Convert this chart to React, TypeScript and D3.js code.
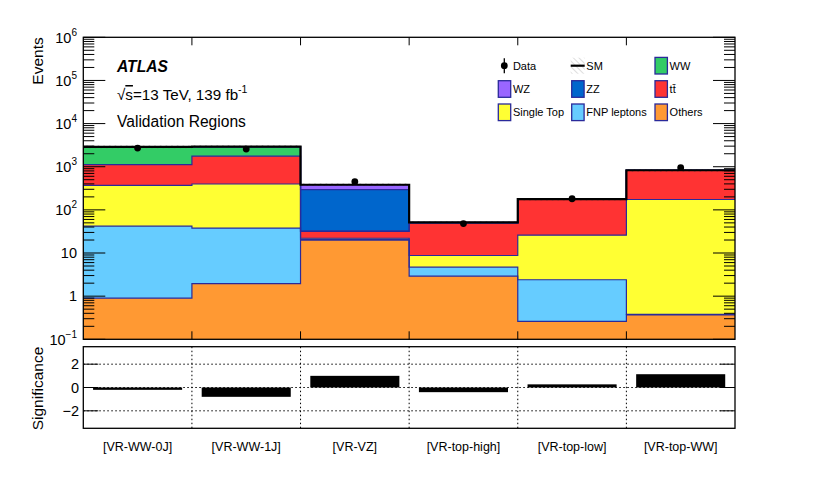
import * as d3 from "d3";

const regions = ["[VR-WW-0J]", "[VR-WW-1J]", "[VR-VZ]", "[VR-top-high]", "[VR-top-low]", "[VR-top-WW]"];

// expected yields per region, stacked bottom -> top
const others = [0.9, 1.95, 20, 2.9, 0.26, 0.37];
const fnpLeptons = [41, 36, 0.8, 1.8, 2.14, 0.01];
const singleTop = [328, 360, 1.2, 4.05, 23.5, 173.6];
const ttbar = [750, 1362, 9.6, 40.2, 148, 646];
const ww = [1730, 1140, 0.5, 1.5, 2, 5];
const zz = [8, 6, 261, 0.3, 0.3, 1];
const wz = [25, 20, 89, 0.5, 0.5, 2];

const dataCounts = [2700, 2560, 450, 48, 181, 950];
const significance = [-0.2, -0.8, 1.0, -0.4, 0.27, 1.14];
const sigTicks = [-2, 0, 2];

const layers = [
  { key: "others", name: "Others", values: others, color: "#ff9933" },
  { key: "fnp", name: "FNP leptons", values: fnpLeptons, color: "#66ccff" },
  { key: "st", name: "Single Top", values: singleTop, color: "#ffff33" },
  { key: "tt", name: "t\u0074\u0304", values: ttbar, color: "#ff3333" },
  { key: "ww", name: "WW", values: ww, color: "#33cc66" },
  { key: "zz", name: "ZZ", values: zz, color: "#0066cc" },
  { key: "wz", name: "WZ", values: wz, color: "#9966ff" },
];

const legendRows = [
  ["Data", "SM", "WW"],
  ["WZ", "ZZ", "t\u0074\u0304"],
  ["Single Top", "FNP leptons", "Others"],
];

const W = 830;
const H = 478;
const left = 83.3;
const right = 735;
const top = 37.3;
const mainBottom = 339.3;
const ratioTop = 346.7;
const ratioBottom = 428.3;
const outline = "#2a2a9a";
const font = "'Liberation Sans', Arial, Helvetica, sans-serif";

export default function App() {
  const x = d3.scaleLinear().domain([0, regions.length]).range([left, right]);
  const y = d3.scaleLog().domain([0.1, 1e6]).range([mainBottom, top]);
  const ys = d3.scaleLinear().domain([-3.5, 3.5]).range([ratioBottom, ratioTop]);

  const table = regions.map((r, i) => {
    const row: Record<string, number> = {};
    layers.forEach((l) => (row[l.key] = l.values[i]));
    return row;
  });
  const stacked = d3.stack<Record<string, number>>().keys(layers.map((l) => l.key))(table);

  const edges = d3.range(regions.length + 1);
  const stepPts = (vals: number[]) => edges.map((e) => [x(e), y(vals[Math.min(e, vals.length - 1)])] as [number, number]);

  const area = d3
    .area<[number, number]>()
    .x((d) => d[0])
    .y0(mainBottom)
    .y1((d) => d[1])
    .curve(d3.curveStepAfter);
  const line = d3
    .line<[number, number]>()
    .x((d) => d[0])
    .y((d) => d[1])
    .curve(d3.curveStepAfter);

  const totals = stacked[stacked.length - 1].map((d) => d[1]);
  const bandPts = edges.map((e) => totals[Math.min(e, totals.length - 1)]);
  const band = d3
    .area<number>()
    .x((_, i) => x(i))
    .y0((d) => y(d * 0.93))
    .y1((d) => y(d * 1.07))
    .curve(d3.curveStepAfter);

  const logTicks = y.ticks();
  const isMajor = (t: number) => Math.abs(Math.log10(t) - Math.round(Math.log10(t))) < 1e-9;

  const decadeLabel = (t: number) => {
    const e = Math.round(Math.log10(t));
    if (e === 0) return <tspan>1</tspan>;
    if (e === 1) return <tspan>10</tspan>;
    return (
      <>
        <tspan>10</tspan>
        <tspan dy={-7} fontSize={10}>
          {e < 0 ? `\u2212${-e}` : e}
        </tspan>
      </>
    );
  };

  const colorOf = (name: string) => layers.find((l) => l.name === name)?.color;
  const legendCols = [498.3, 571.7, 655];
  const legendY = [65.7, 89, 112.3];

  return (
    <svg width={W} height={H} style={{ position: "absolute", left: 0, top: 0, background: "#fff" }} fontFamily={font}>
      <defs>
        <clipPath id="plot">
          <rect x={left} y={top} width={right - left} height={mainBottom - top} />
        </clipPath>
        <pattern id="hatch" width={4} height={4} patternUnits="userSpaceOnUse" patternTransform="rotate(45)">
          <line x1={0} y1={0} x2={0} y2={4} stroke="#444" strokeWidth={0.8} />
        </pattern>
        <pattern id="hatchLeg" width={4} height={4} patternUnits="userSpaceOnUse" patternTransform="rotate(-45)">
          <line x1={0} y1={0} x2={0} y2={4} stroke="#aaa" strokeWidth={0.8} />
        </pattern>
      </defs>

      {/* stacked histograms, drawn top layer first */}
      <g clipPath="url(#plot)">
        {[...stacked].reverse().map((s, i) => {
          const layer = layers[layers.length - 1 - i];
          const pts = stepPts(s.map((d) => d[1]));
          return <path key={layer.key} d={area(pts) ?? ""} fill={layer.color} />;
        })}
        {stacked.map((s, i) => (
          <path key={layers[i].key} d={line(stepPts(s.map((d) => d[1]))) ?? ""} fill="none" stroke={outline} strokeWidth={1.2} />
        ))}
        <path d={band(bandPts) ?? ""} fill="url(#hatch)" />
        <path d={line(stepPts(totals)) ?? ""} fill="none" stroke="#000" strokeWidth={2.2} />
      </g>

      {/* data */}
      {dataCounts.map((n, i) => {
        const cx = x(i + 0.5);
        const err = Math.sqrt(n);
        return (
          <g key={regions[i]}>
            <line x1={cx} x2={cx} y1={y(n + err)} y2={y(Math.max(n - err, 0.1))} stroke="#000" strokeWidth={1.2} />
            <circle cx={cx} cy={y(n)} r={3.4} fill="#000" />
          </g>
        );
      })}

      {/* main frame and axes */}
      <rect x={left} y={top} width={right - left} height={mainBottom - top} fill="none" stroke="#000" strokeWidth={1.3} />
      {logTicks.map((t) => {
        const len = isMajor(t) ? 22 : 11;
        return (
          <g key={t}>
            <line x1={left} x2={left + len} y1={y(t)} y2={y(t)} stroke="#000" strokeWidth={1} />
            <line x1={right} x2={right - len} y1={y(t)} y2={y(t)} stroke="#000" strokeWidth={1} />
            {isMajor(t) && (
              <text x={77} y={y(t)} dy="0.36em" textAnchor="end" fontSize={14.5}>
                {decadeLabel(t)}
              </text>
            )}
          </g>
        );
      })}
      {edges.slice(1, -1).map((e) => (
        <g key={e}>
          <line x1={x(e)} x2={x(e)} y1={mainBottom} y2={mainBottom - 8} stroke="#000" strokeWidth={1} />
          <line x1={x(e)} x2={x(e)} y1={top} y2={top + 8} stroke="#000" strokeWidth={1} />
        </g>
      ))}
      <text transform={`translate(43,${top}) rotate(-90)`} textAnchor="end" fontSize={15.5}>
        Events
      </text>

      {/* labels */}
      <text x={117} y={71.7} fontSize={15.6} fontWeight="bold" fontStyle="italic">
        ATLAS
      </text>
      <text x={117} y={100} fontSize={15.2}>
        <tspan>{"\u221A"}</tspan>
        <tspan style={{ textDecoration: "overline" }}>s</tspan>
        <tspan>=13 TeV, 139 fb</tspan>
        <tspan dy={-7} fontSize={10.5}>
          -1
        </tspan>
      </text>
      <text x={117} y={126.7} fontSize={15.6}>
        Validation Regions
      </text>

      {/* legend */}
      {legendRows.map((row, r) =>
        row.map((name, c) => {
          const bx = legendCols[c];
          const cy = legendY[r];
          let marker;
          if (name === "Data") {
            marker = (
              <g>
                <line x1={bx + 6} x2={bx + 6} y1={cy - 7.5} y2={cy + 7.5} stroke="#000" strokeWidth={1.3} />
                <circle cx={bx + 6} cy={cy} r={3.4} fill="#000" />
              </g>
            );
          } else if (name === "SM") {
            marker = (
              <g>
                <rect x={bx - 1} y={cy - 8} width={14} height={16} fill="url(#hatchLeg)" />
                <line x1={bx - 1} x2={bx + 13} y1={cy} y2={cy} stroke="#000" strokeWidth={2.2} />
              </g>
            );
          } else {
            marker = (
              <rect x={bx} y={cy - 8.3} width={12.4} height={16.6} fill={colorOf(name)} stroke={outline} strokeWidth={1.3} />
            );
          }
          return (
            <g key={name}>
              {marker}
              <text x={bx + 14.6} y={cy + 4} fontSize={11}>
                {name}
              </text>
            </g>
          );
        })
      )}

      {/* significance panel */}
      {sigTicks.map((t) => (
        <line key={`g${t}`} x1={left} x2={right} y1={ys(t)} y2={ys(t)} stroke="#000" strokeWidth={1} strokeDasharray="1.5,2.5" />
      ))}
      {edges.slice(1, -1).map((e) => (
        <line key={`v${e}`} x1={x(e)} x2={x(e)} y1={ratioTop} y2={ratioBottom} stroke="#000" strokeWidth={1} strokeDasharray="1.5,2.5" />
      ))}
      {significance.map((s, i) => {
        const x0 = x(i + 0.09);
        const x1 = x(i + 0.91);
        const y0 = Math.min(ys(0), ys(s));
        const h = Math.max(Math.abs(ys(s) - ys(0)), 1.2);
        return <rect key={regions[i]} x={x0} y={y0} width={x1 - x0} height={h} fill="#000" />;
      })}
      <rect x={left} y={ratioTop} width={right - left} height={ratioBottom - ratioTop} fill="none" stroke="#000" strokeWidth={1.3} />
      {sigTicks.map((t) => (
        <g key={`t${t}`}>
          <line x1={left} x2={left + 15} y1={ys(t)} y2={ys(t)} stroke="#000" strokeWidth={1} />
          <line x1={right} x2={right - 15} y1={ys(t)} y2={ys(t)} stroke="#000" strokeWidth={1} />
          <text x={79} y={ys(t)} dy="0.36em" textAnchor="end" fontSize={14.5}>
            {t < 0 ? `\u2212${-t}` : t}
          </text>
        </g>
      ))}
      <text transform={`translate(43,${ratioTop}) rotate(-90)`} textAnchor="end" fontSize={15.5}>
        Significance
      </text>

      {regions.map((r, i) => (
        <text key={r} x={x(i + 0.5)} y={450.7} textAnchor="middle" fontSize={12.5}>
          {r}
        </text>
      ))}
    </svg>
  );
}
